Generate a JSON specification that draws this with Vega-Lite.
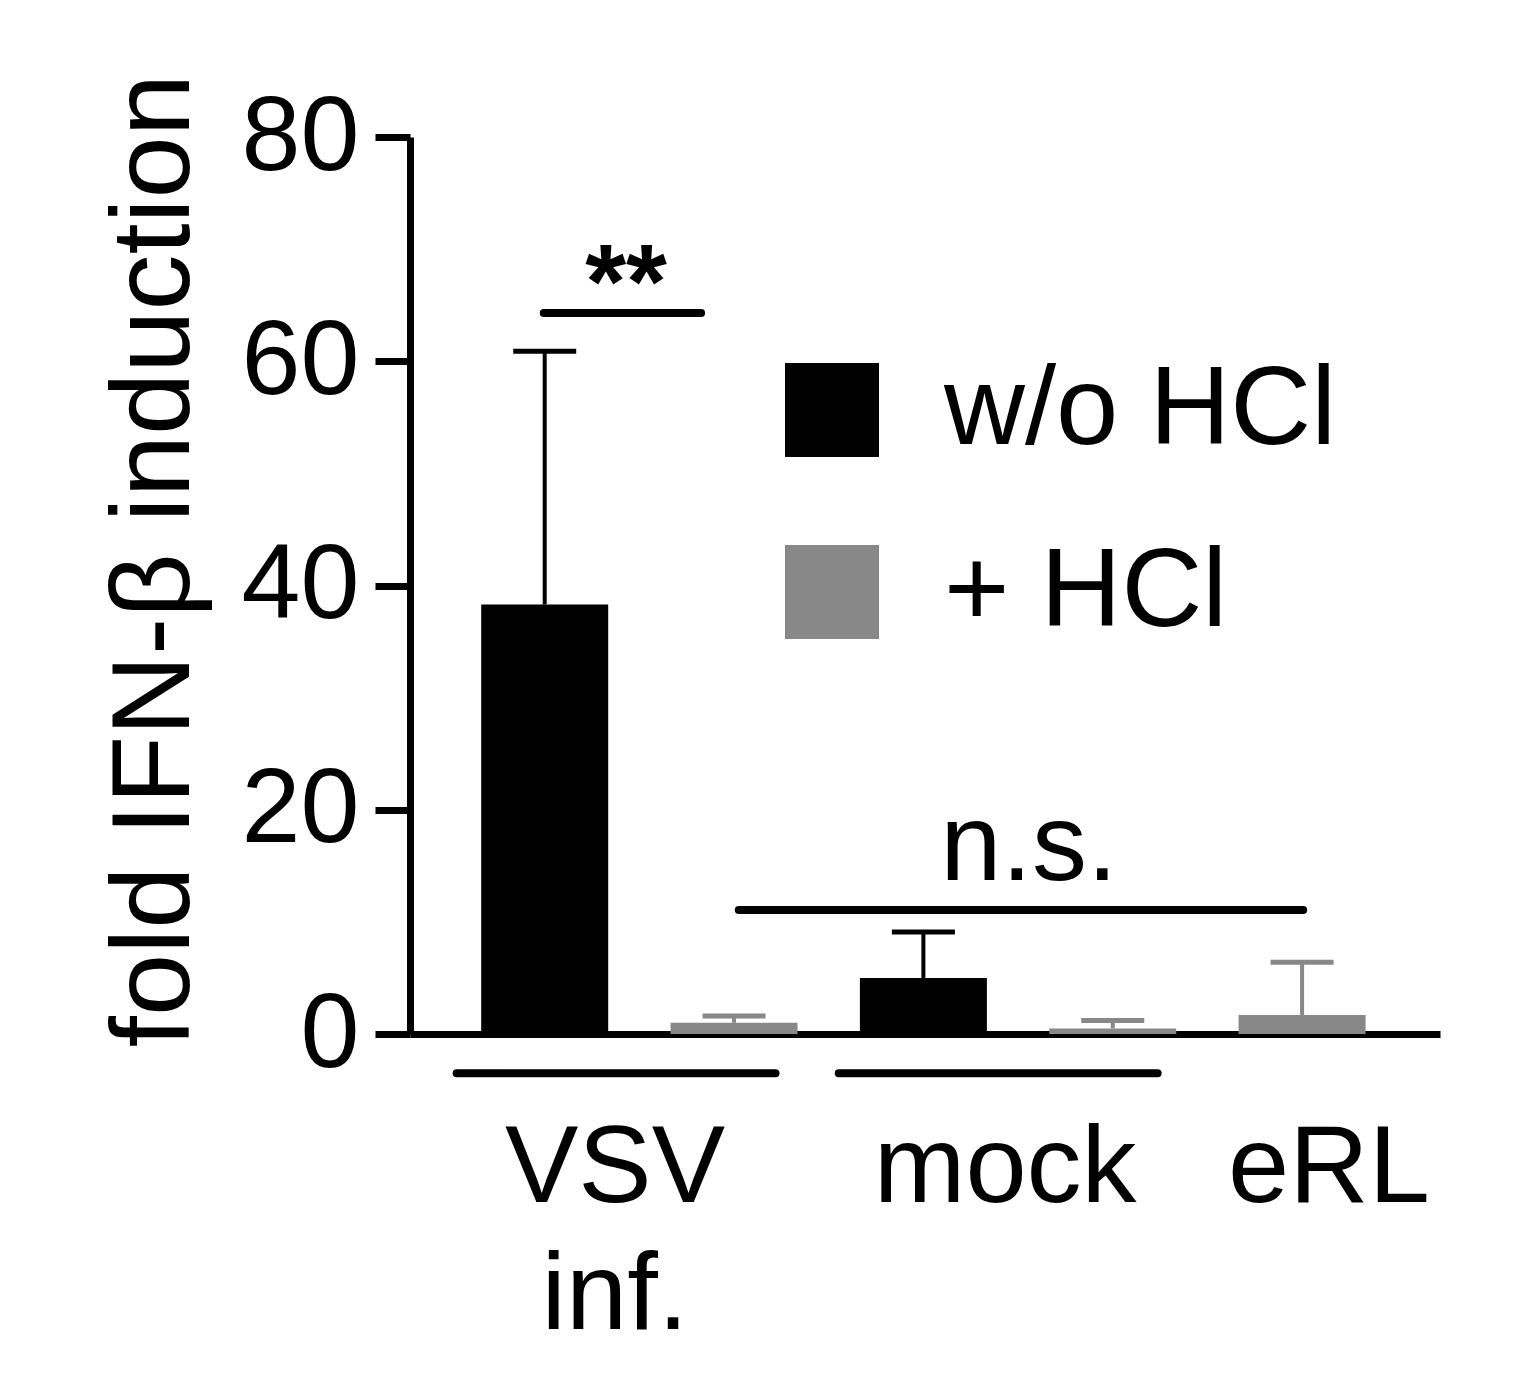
{
  "$schema": "https://vega.github.io/schema/vega-lite/v6.json",
  "description": "Fold IFN-beta induction with and without HCl.",
  "autosize": "none",
  "width": 1030,
  "height": 897,
  "padding": {"left": 410, "top": 137, "right": 87, "bottom": 341},
  "background": "white",
  "config": {
    "view": {"stroke": null},
    "font": "Liberation Sans"
  },
  "datasets": {
    "bars": [
      {"group": "VSV inf.", "hcl": "w/o HCl", "slot": 1, "mean": 38.3, "upper": 60.9},
      {"group": "VSV inf.", "hcl": "+ HCl", "slot": 2, "mean": 1.0, "upper": 1.6},
      {"group": "mock", "hcl": "w/o HCl", "slot": 3, "mean": 5.0, "upper": 9.1},
      {"group": "mock", "hcl": "+ HCl", "slot": 4, "mean": 0.5, "upper": 1.2},
      {"group": "eRL", "hcl": "+ HCl", "slot": 5, "mean": 1.7, "upper": 6.4}
    ],
    "brackets": [
      {"name": "VSV underline", "from": 0.535, "to": 2.219, "level": -3.5},
      {"name": "mock underline", "from": 2.553, "to": 4.237, "level": -3.5},
      {"name": "n.s.", "from": 2.025, "to": 5.006, "level": 11.06},
      {"name": "**", "from": 0.995, "to": 1.826, "level": 64.3}
    ],
    "labels": [
      {"label": "VSV\ninf.", "at": 1.371, "level": -15.0},
      {"label": "mock", "at": 3.432, "level": -15.0},
      {"label": "eRL", "at": 5.142, "level": -15.0},
      {"label": "n.s.", "at": 3.557, "level": 13.7}
    ],
    "stars": [
      {"label": "**", "at": 1.43, "level": 63.9}
    ]
  },
  "layer": [
    {
      "data": {"name": "bars"},
      "mark": {"type": "bar", "width": 127},
      "encoding": {
        "x": {
          "field": "slot",
          "type": "quantitative",
          "scale": {"domain": [0.315, 5.702], "nice": false, "zero": false},
          "axis": {"title": null, "labels": false, "ticks": false, "grid": false, "domainWidth": 7, "domainColor": "black"}
        },
        "y": {
          "field": "mean",
          "type": "quantitative",
          "scale": {"domain": [0, 80], "nice": false},
          "axis": {
            "values": [0, 20, 40, 60, 80],
            "grid": false,
            "title": "fold IFN-β induction",
            "titleFontSize": 112,
            "titleFontWeight": "normal",
            "titleColor": "black",
            "titleAngle": 270,
            "titleAlign": "center",
            "titleBaseline": "alphabetic",
            "titleX": -222,
            "titleY": 423,
            "labelFontSize": 106,
            "labelColor": "black",
            "labelPadding": 16,
            "tickSize": 35,
            "tickWidth": 7,
            "tickColor": "black",
            "domainWidth": 7,
            "domainColor": "black"
          }
        },
        "color": {
          "field": "hcl",
          "type": "nominal",
          "scale": {"domain": ["w/o HCl", "+ HCl"], "range": ["#000000", "#888888"]},
          "legend": {
            "orient": "none",
            "legendX": 366,
            "legendY": 217,
            "title": null,
            "symbolType": "square",
            "symbolSize": 8836,
            "symbolStrokeWidth": 0,
            "labelFontSize": 112,
            "labelColor": "black",
            "labelLimit": 0,
            "labelOffset": 56,
            "rowPadding": 70
          }
        }
      }
    },
    {
      "data": {"name": "bars"},
      "mark": {"type": "rule", "strokeWidth": 4},
      "encoding": {
        "x": {"field": "slot", "type": "quantitative"},
        "y": {"field": "mean", "type": "quantitative"},
        "y2": {"field": "upper"},
        "color": {"field": "hcl", "type": "nominal", "legend": null}
      }
    },
    {
      "data": {"name": "bars"},
      "mark": {"type": "tick", "orient": "horizontal", "size": 63, "thickness": 5, "opacity": 1},
      "encoding": {
        "x": {"field": "slot", "type": "quantitative"},
        "y": {"field": "upper", "type": "quantitative"},
        "color": {"field": "hcl", "type": "nominal", "legend": null}
      }
    },
    {
      "data": {"name": "brackets"},
      "mark": {"type": "rule", "strokeWidth": 8, "color": "black", "strokeCap": "round", "clip": false},
      "encoding": {
        "x": {"field": "from", "type": "quantitative"},
        "x2": {"field": "to"},
        "y": {"field": "level", "type": "quantitative"}
      }
    },
    {
      "data": {"name": "labels"},
      "mark": {"type": "text", "fontSize": 110, "align": "center", "baseline": "alphabetic", "lineBreak": "\n", "lineHeight": 127, "color": "black"},
      "encoding": {
        "x": {"field": "at", "type": "quantitative"},
        "y": {"field": "level", "type": "quantitative"},
        "text": {"field": "label"}
      }
    },
    {
      "data": {"name": "stars"},
      "mark": {"type": "text", "fontSize": 105, "fontWeight": "bold", "align": "center", "baseline": "alphabetic", "color": "black"},
      "encoding": {
        "x": {"field": "at", "type": "quantitative"},
        "y": {"field": "level", "type": "quantitative"},
        "text": {"field": "label"}
      }
    }
  ]
}
